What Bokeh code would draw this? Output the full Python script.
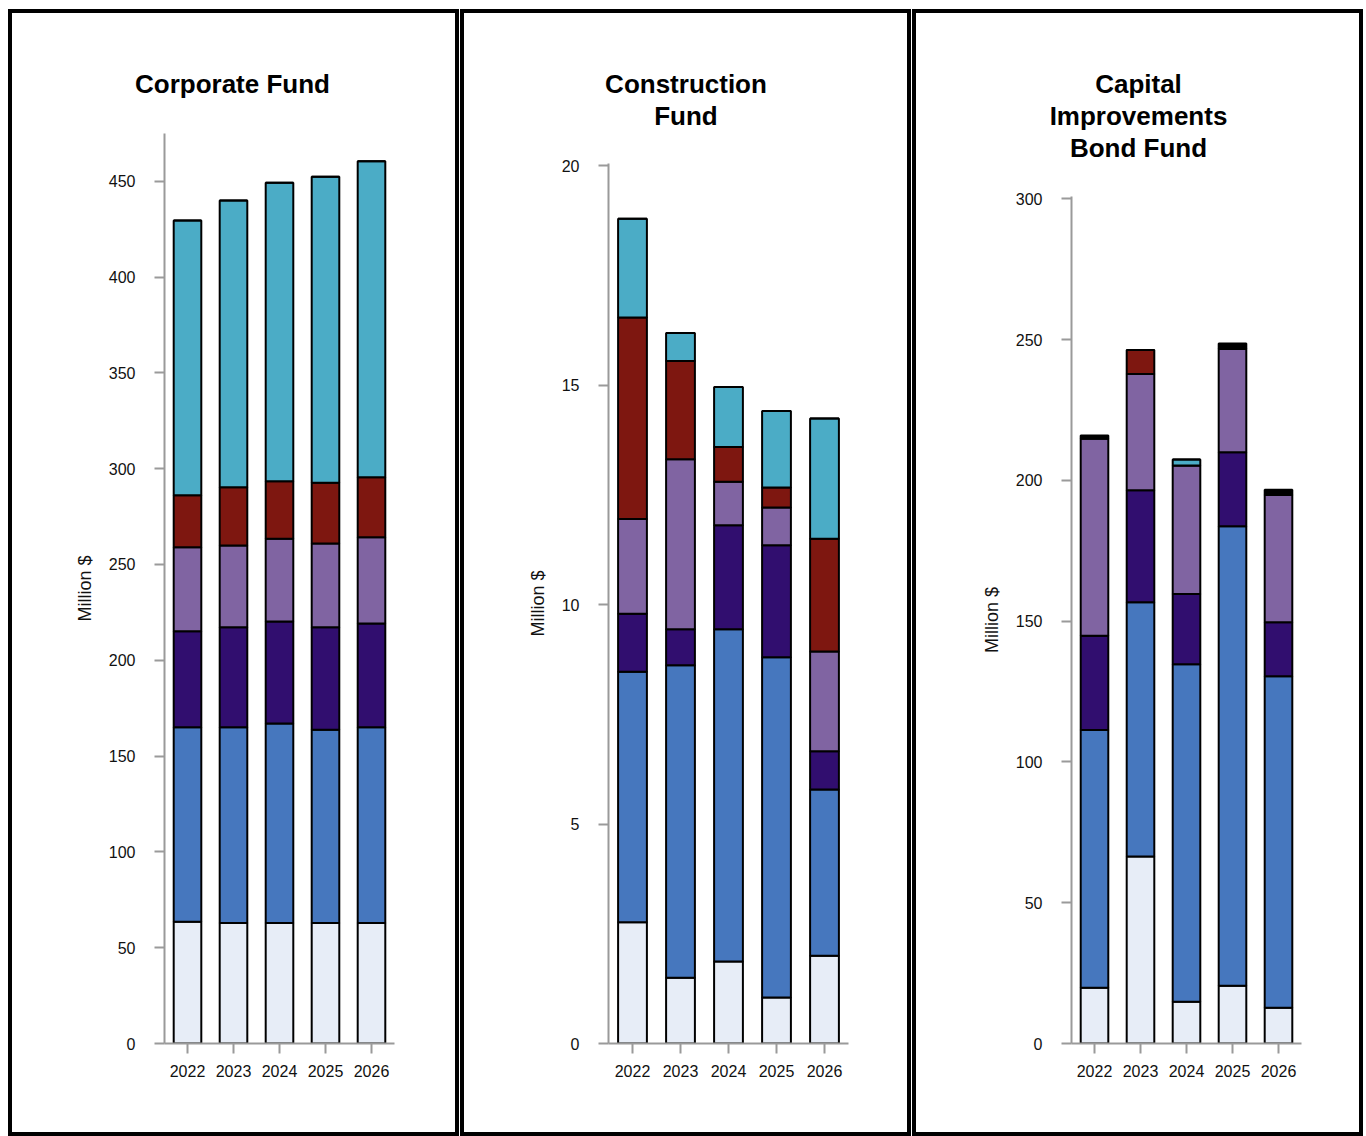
from bokeh.plotting import figure
from bokeh.models import FactorRange, Range1d, FixedTicker, Label, ColumnDataSource
from bokeh.layouts import row, column
from bokeh.embed import file_html
from bokeh.resources import INLINE

years = ["2022", "2023", "2024", "2025", "2026"]
layers = ["s1", "s2", "s3", "s4", "s5", "s6", "s7"]
colors = ["#E7EDF7", "#4677BE", "#310E6F", "#8064A2", "#7E1710", "#4BACC6", "#000000"]

# Corporate Fund (million $)
corp_s1 = [63.6, 62.9, 62.9, 62.9, 62.9]
corp_s2 = [101.4, 102.1, 104.1, 100.9, 102.1]
corp_s3 = [50.1, 52.2, 53.2, 53.4, 54.2]
corp_s4 = [43.9, 42.7, 43.2, 43.7, 45.0]
corp_s5 = [27.1, 30.4, 30.0, 31.7, 31.3]
corp_s6 = [143.4, 149.6, 155.8, 159.7, 164.9]
corp_s7 = [0, 0, 0, 0, 0]

# Construction Fund (million $)
cons_s1 = [2.76, 1.50, 1.87, 1.05, 2.00]
cons_s2 = [5.71, 7.12, 7.57, 7.75, 3.79]
cons_s3 = [1.32, 0.82, 2.37, 2.55, 0.87]
cons_s4 = [2.16, 3.87, 0.99, 0.86, 2.27]
cons_s5 = [4.59, 2.24, 0.79, 0.46, 2.57]
cons_s6 = [2.25, 0.64, 1.37, 1.74, 2.74]
cons_s7 = [0, 0, 0, 0, 0]

# Capital Improvements Bond Fund (million $)
cap_s1 = [19.8, 66.4, 14.8, 20.5, 12.7]
cap_s2 = [91.5, 90.3, 119.9, 163.2, 117.7]
cap_s3 = [33.5, 39.8, 24.9, 26.3, 19.2]
cap_s4 = [70.1, 41.3, 45.7, 36.7, 45.2]
cap_s5 = [0, 8.5, 0, 0, 0]
cap_s6 = [0, 0, 2.1, 0, 0]
cap_s7 = [1.0, 0, 0, 1.9, 1.9]

corp_ticks = [0, 50, 100, 150, 200, 250, 300, 350, 400, 450]
cons_ticks = [0, 5, 10, 15, 20]
cap_ticks = [0, 50, 100, 150, 200, 250, 300]

FONT = "Liberation Sans"
AXIS_GRAY = "#9a9a9a"


def make_panel(title, series, y_end, ticks, bl, br, bt, title_x):
    W, H = 451, 1127
    p = figure(
        x_range=FactorRange(factors=years, range_padding=0),
        y_range=Range1d(0, y_end),
        width=W, height=H,
        min_border_left=bl, min_border_right=br,
        min_border_top=bt, min_border_bottom=97,
        output_backend="svg", toolbar_location=None, tools="",
    )
    p.title = None
    data = {"year": years}
    for k, v in zip(layers, series):
        data[k] = v
    src = ColumnDataSource(data)
    p.vbar_stack(layers, x="year", width=0.6, source=src,
                 fill_color=colors, line_color="black", line_width=2)

    for ax in (p.xaxis[0], p.yaxis[0]):
        ax.axis_line_color = AXIS_GRAY
        ax.axis_line_width = 2
        ax.major_tick_line_color = AXIS_GRAY
        ax.major_tick_line_width = 2
        ax.major_tick_out = 10
        ax.major_tick_in = 0
        ax.minor_tick_line_color = None
        ax.major_label_text_font = FONT
        ax.major_label_text_font_size = "16px"
        ax.major_label_text_color = "#111111"
    p.xaxis.major_label_standoff = 11
    p.yaxis.major_label_standoff = 19
    p.yaxis.ticker = FixedTicker(ticks=ticks)
    p.yaxis.axis_label = "Million $"
    p.yaxis.axis_label_text_font = FONT
    p.yaxis.axis_label_text_font_style = "normal"
    p.yaxis.axis_label_text_font_size = "18px"
    p.yaxis.axis_label_text_color = "#111111"
    p.yaxis.axis_label_standoff = 11
    p.xgrid.grid_line_color = None
    p.ygrid.grid_line_color = None
    p.outline_line_color = None
    p.background_fill_color = "white"
    p.border_fill_color = "white"

    # title block top sits 70px below the page top; frame top = 13 + bt
    lab = Label(x=title_x, y=13 + bt - 68, x_units="screen", y_units="screen",
                text=title, text_align="center", text_baseline="top",
                text_font=FONT, text_font_size="26px", text_font_style="bold",
                text_color="black", text_line_height=1.07)
    p.add_layout(lab, "above")
    p.styles = {"border": "4px solid black"}
    return p


p1 = make_panel("Corporate Fund",
                [corp_s1, corp_s2, corp_s3, corp_s4, corp_s5, corp_s6, corp_s7],
                474.9, corp_ticks, 152, 69, 120, 68)
p2 = make_panel("Construction\nFund",
                [cons_s1, cons_s2, cons_s3, cons_s4, cons_s5, cons_s6, cons_s7],
                20.05, cons_ticks, 144, 67, 150, 77.5)
p3 = make_panel("Capital\nImprovements\nBond Fund",
                [cap_s1, cap_s2, cap_s3, cap_s4, cap_s5, cap_s6, cap_s7],
                300.8, cap_ticks, 155, 66, 183, 67)

layout = row(column(p1), column(p2), column(p3), spacing=1)
layout.styles = {"margin-left": "8px", "margin-top": "9px"}
open("out.html", "w").write(file_html(layout, INLINE))
